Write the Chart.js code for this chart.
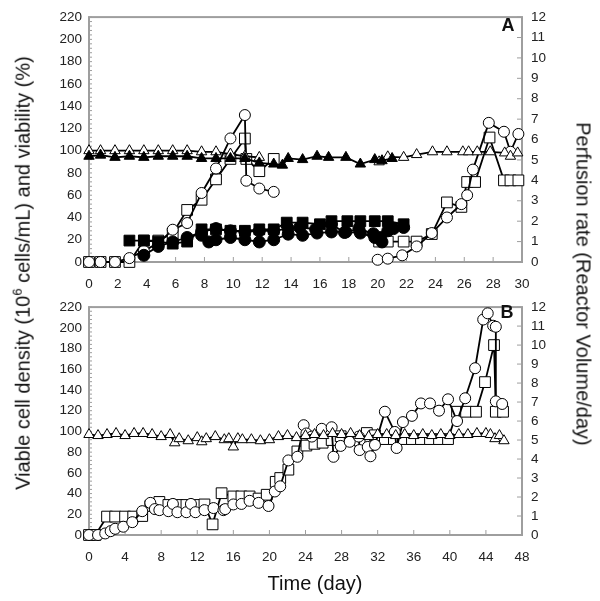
<!DOCTYPE html>
<html>
<head>
<meta charset="utf-8">
<script src="https://cdn.jsdelivr.net/npm/chart.js@4.4.1/dist/chart.umd.min.js"></script>
<style>
  body { margin: 0; background: #fff; font-family: "Liberation Sans", Arial, sans-serif; }
  #wrap { position: relative; width: 600px; height: 601px; overflow: hidden; }
  canvas { position: absolute; left: 0; }
  .lbl { position: absolute; white-space: nowrap; color: #111; transform-origin: center center; }
</style>
</head>
<body>
<div id="wrap">
  <canvas id="chartA" width="600" height="290" style="top:0"></canvas>
  <canvas id="chartB" width="600" height="311" style="top:290px"></canvas>
  <div class="lbl" style="left:22px;top:273px;font-size:20px;transform:translate(-50%,-50%) rotate(-90deg)">Viable cell density (10<sup style="font-size:13px">6</sup> cells/mL) and viability (%)</div>
  <div class="lbl" style="left:583px;top:284px;font-size:20px;transform:translate(-50%,-50%) rotate(90deg)">Perfusion rate (Reactor Volume/day)</div>
  <div class="lbl" style="left:315px;top:583px;font-size:20px;transform:translate(-50%,-50%)">Time (day)</div>
  <div class="lbl" style="left:508px;top:25px;font-size:18px;font-weight:bold;transform:translate(-50%,-50%)">A</div>
  <div class="lbl" style="left:507px;top:312px;font-size:18px;font-weight:bold;transform:translate(-50%,-50%)">B</div>
</div>
<script>
// ---- Panel A data (day, value) ----
// run 1, open symbols
const aRun1Days = [0, 0.8, 1.8, 2.8, 3.8, 4.8, 5.8, 6.8, 7.8, 8.8, 9.8, 10.8, 10.9, 11.8, 12.8];
const aRun1Vcd = [0, 0, 0, 3.5, 10, 17, 29, 35, 62, 84, 111, 132, 73, 66, 63];
const aRun1Perf = [0, 0, 0, 0, 1.05, 1.05, 1.4, 2.55, 3.05, 4.05, 5.05, 6.05, 5.05, 4.45, 5.05];
const aRun1ViaDays = [0, 0.8, 1.8, 2.8, 3.8, 4.8, 5.8, 6.8, 7.8, 8.8, 9.8, 10.8, 11.8];
const aRun1Via = [100, 100, 100, 100, 100, 100, 100, 100, 99, 99, 97, 95, 94];
// run 2, filled symbols
const aRun2ViaDays = [0, 0.8, 1.8, 2.8, 3.8, 4.8, 5.8, 6.8, 7.8, 8.8, 9.8, 10.8, 11.8, 12.8, 13.4, 13.8, 14.8, 15.8, 16.6, 17.8, 18.8, 19.8, 20.3, 21];
const aRun2Via = [95, 96, 94, 95, 94, 95, 95, 95, 93, 93, 93, 93, 89, 88, 87, 93, 92, 95, 94, 94, 88, 92, 91, 93];
const aRun2PerfDays = [2.8, 3.8, 4.8, 5.8, 6.8, 7.8, 8.8, 9.8, 10.8, 11.8, 12.8, 13.7, 14.8, 16, 16.8, 17.9, 18.8, 19.8, 20.7, 21.8];
const aRun2Perf = [1.05, 1.05, 1.0, 0.9, 1.0, 1.6, 1.6, 1.53, 1.53, 1.6, 1.6, 1.93, 1.93, 1.85, 2.0, 2.0, 2.0, 2.0, 2.0, 1.85];
const aRun2VcdDays = [3.8, 4.8, 5.8, 6.8, 7.8, 8.8, 9.8, 10.8, 11.8, 12.8, 13.8, 14.6, 15.7, 16.8, 17.7, 18.7, 19.7, 20.2, 20.7, 21.1, 21.8];
const aRun2Vcd = [6, 14, 18, 22, 27, 30, 28, 27, 28, 28, 30, 31, 29.5, 34, 26.5, 30, 25.4, 22, 28, 30, 31];
const aRun2bVcdDays = [7.8, 8.3, 8.8, 9.8, 10.8, 11.8, 12.8, 13.8, 14.8, 15.8, 16.8, 17.8, 18.8, 19.8, 20.3];
const aRun2bVcd = [24, 18, 20, 22, 20, 18, 20, 25, 24, 26, 27, 27, 26, 22, 18];
// run 3, open symbols
const aRun3VcdDays = [20.0, 20.7, 21.7, 22.7, 23.75, 24.8, 25.8, 26.2, 26.6, 27.7, 28.75, 29.2, 29.75];
const aRun3Vcd = [2, 3, 6, 14, 26, 40, 52, 60, 83, 125, 117, 99, 115];
const aRun3PerfDays = [20.1, 20.7, 21.8, 22.7, 23.75, 24.8, 25.8, 26.2, 26.75, 27.75, 28.75, 29.2, 29.75];
const aRun3Perf = [1, 1, 1, 1, 1.37, 2.92, 2.7, 3.92, 3.92, 6.1, 4, 4, 4];
const aRun3ViaDays = [20.1, 20.7, 21.8, 22.7, 23.8, 24.8, 25.9, 26.3, 26.9, 27.8, 28.8, 29.2, 29.7];
const aRun3Via = [90, 94.5, 94, 96.5, 99, 99, 99, 99, 99, 99, 98, 95, 98];

// ---- Panel B data ----
const bViaDays = [0, 1, 2, 3, 4, 5, 6, 7, 8, 9, 9.5, 10, 11, 12, 12.5, 13, 14, 15, 15.5, 16, 16.5, 17, 18, 19, 20, 21, 22, 23, 24, 25, 26, 27, 28, 29, 30, 31, 32, 33, 34, 35, 36, 37, 38, 39, 40, 41, 42, 43, 44, 44.5, 45, 45.5, 46];
const bVia = [97, 96, 97, 98, 96, 98, 98, 97, 95, 97, 89, 93, 91, 94, 90, 93, 95, 92, 93, 85, 93, 92, 92, 91, 92, 95, 96, 94, 96, 97, 96, 98, 97, 98, 96, 95, 97, 97, 96, 97, 96, 97, 96, 97, 96, 97, 97, 98, 98, 97, 93, 96, 91];
const bVcdDays = [0, 1, 1.8, 2.4, 2.9, 3.8, 4.8, 5.9, 6.8, 7.3, 7.8, 8.8, 9.3, 9.8, 10.8, 11.3, 11.8, 12.8, 13.8, 14.9, 15.1, 16, 16.9, 17.8, 18.8, 19.9, 20.6, 21.2, 22.1, 23.1, 23.8, 24.1, 24.7, 25.8, 26.9, 27.1, 27.9, 28.9, 29.9, 30, 30.9, 31.2, 31.7, 32.8, 33.9, 34.1, 34.8, 35.8, 36.8, 37.8, 38.8, 39.8, 40.8, 41.7, 42.8, 43.7, 44.2, 44.8, 45.1, 45.1, 45.8];
const bVcd = [0, 0, 1.5, 3.7, 6, 8, 12.4, 23, 31, 25, 24, 23, 30, 22, 22, 30, 22, 24, 26, 24, 25, 29.5, 30, 33, 31, 28, 42, 47, 72, 75.5, 106, 98, 95, 102.5, 104, 75.5, 86, 90, 95, 82, 85, 76, 87, 119, 99.5, 84, 109, 115, 127, 127, 120, 131, 110, 132, 161, 208, 214, 202, 201, 129, 126.5];
const bPerfDays = [0, 0.7, 2, 2.9, 4, 4.9, 5.9, 6.8, 7.8, 8.8, 9.8, 10.8, 11.8, 12.8, 13.7, 14.7, 16, 16.9, 17.8, 18.8, 19.7, 20.7, 21.2, 22.1, 23.1, 24.1, 25, 25.9, 26.9, 27.9, 28.9, 30, 30.8, 31.7, 32.8, 33.8, 34.8, 35.8, 36.8, 37.8, 38.8, 39.8, 40.8, 41.8, 42.9, 43.9, 44.9, 45.1, 45.9];
const bPerf = [0, 0, 0.97, 0.97, 0.97, 0.97, 1.0, 1.53, 1.74, 1.58, 1.58, 1.58, 1.58, 1.61, 0.56, 2.2, 2.03, 2.03, 2.03, 1.92, 2.12, 2.8, 3.0, 3.44, 4.4, 4.71, 4.8, 4.86, 5.0, 5.2, 5.0, 4.97, 5.37, 5.25, 5.05, 5.05, 5.05, 5.05, 5.05, 5.05, 5.05, 5.05, 6.49, 6.49, 6.49, 8.05, 10.0, 6.49, 6.49];

const leftTicks = [0, 20, 40, 60, 80, 100, 120, 140, 160, 180, 200, 220];
const rightTicks = [0, 1, 2, 3, 4, 5, 6, 7, 8, 9, 10, 11, 12];

function pts(xs, ys) {
  return xs.map((x, i) => ({ x: x, y: ys[i] }));
}

const radii = { circle: 5.5, rect: 7.6, triangle: 6 };

function series(xs, ys, shape, filled, axis) {
  return {
    data: pts(xs, ys),
    yAxisID: axis || 'y',
    borderColor: '#000',
    borderWidth: 1.8,
    pointStyle: shape,
    pointRadius: filled && shape === 'circle' ? 6 : radii[shape],
    pointBorderWidth: 1,
    pointBorderColor: '#000',
    pointBackgroundColor: filled ? '#000' : '#fff',
    tension: 0,
    clip: false
  };
}

// grey frame + inward tick marks
const framePlugin = {
  id: 'frame',
  beforeDatasetsDraw(chart) {
    const { ctx, chartArea: a, scales } = chart;
    ctx.save();
    ctx.strokeStyle = '#9e9e9e';
    ctx.lineWidth = 1;
    ctx.beginPath();
    scales.x.ticks.forEach(t => {
      const px = scales.x.getPixelForValue(t.value);
      ctx.moveTo(px, a.bottom); ctx.lineTo(px, a.bottom - 5);
    });
    rightTicks.forEach(v => {
      const py = scales.y1.getPixelForValue(v);
      ctx.moveTo(a.right, py); ctx.lineTo(a.right - 5, py);
    });
    for (let v = 0; v <= 220; v += 4) {
      const py = scales.y.getPixelForValue(v);
      ctx.moveTo(a.left, py); ctx.lineTo(a.left + 3, py);
    }
    ctx.stroke();
    ctx.lineWidth = 2;
    ctx.strokeRect(a.left, a.top, a.right - a.left, a.bottom - a.top);
    ctx.restore();
  }
};

const tickFont = { family: '"Liberation Sans", Arial, sans-serif', size: 13.5 };

function makeChart(id, datasets, xMax, xStep, padTop, xHeight) {
  return new Chart(document.getElementById(id), {
    type: 'line',
    data: { datasets: datasets },
    plugins: [framePlugin],
    options: {
      responsive: false,
      animation: false,
      layout: { padding: { top: padTop, left: 0, right: 0, bottom: 0 } },
      plugins: { legend: { display: false }, tooltip: { enabled: false } },
      scales: {
        x: {
          type: 'linear', min: 0, max: xMax,
          grid: { display: false, drawTicks: false },
          border: { display: false },
          ticks: { stepSize: xStep, font: tickFont, color: '#222', padding: 14, maxRotation: 0, autoSkip: false },
          afterFit: s => { s.height = xHeight; }
        },
        y: {
          type: 'linear', position: 'left', min: 0, max: 220,
          grid: { display: false, drawTicks: false },
          border: { display: false },
          afterBuildTicks: s => { s.ticks = leftTicks.map(v => ({ value: v })); },
          ticks: { font: tickFont, color: '#222', padding: 7, autoSkip: false },
          afterFit: s => { s.width = 89; }
        },
        y1: {
          type: 'linear', position: 'right', min: 0, max: 12,
          grid: { display: false, drawTicks: false },
          border: { display: false },
          afterBuildTicks: s => { s.ticks = rightTicks.map(v => ({ value: v })); },
          ticks: { font: tickFont, color: '#222', padding: 9, autoSkip: false },
          afterFit: s => { s.width = 78; }
        }
      }
    }
  });
}

makeChart('chartA', [
  series(aRun2VcdDays, aRun2Vcd, 'circle', true),
  series(aRun2bVcdDays, aRun2bVcd, 'circle', true),
  series(aRun2PerfDays, aRun2Perf, 'rect', true, 'y1'),
  series(aRun2ViaDays, aRun2Via, 'triangle', true),
  series(aRun1ViaDays, aRun1Via, 'triangle', false),
  series(aRun3ViaDays, aRun3Via, 'triangle', false),
  series(aRun1Days, aRun1Vcd, 'circle', false),
  series(aRun1Days, aRun1Perf, 'rect', false, 'y1'),
  series(aRun3VcdDays, aRun3Vcd, 'circle', false),
  series(aRun3PerfDays, aRun3Perf, 'rect', false, 'y1')
], 30, 2, 10, 28);

makeChart('chartB', [
  series(bViaDays, bVia, 'triangle', false),
  series(bVcdDays, bVcd, 'circle', false),
  series(bPerfDays, bPerf, 'rect', false, 'y1')
], 48, 4, 9, 66);
</script>
</body>
</html>
